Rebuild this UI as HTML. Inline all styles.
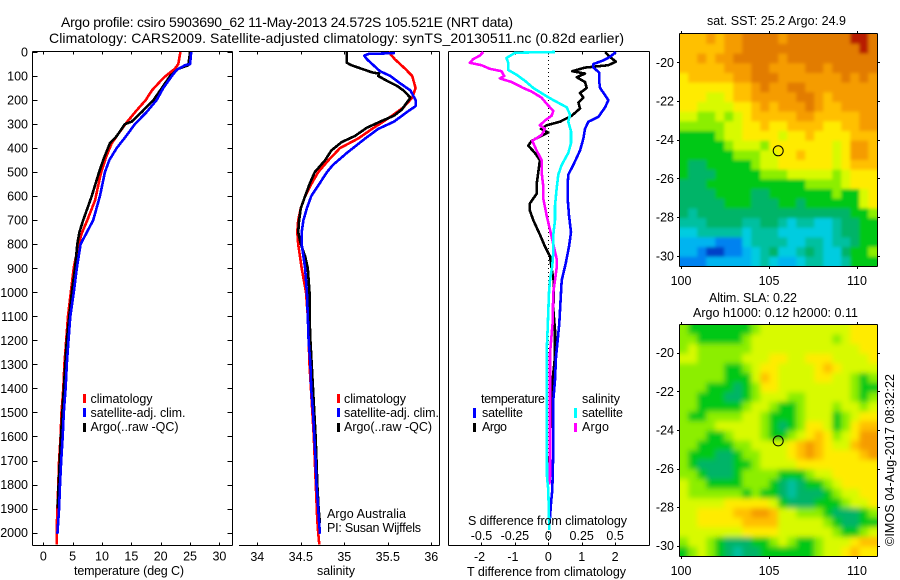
<!DOCTYPE html>
<html lang="en">
<head>
<meta charset="utf-8">
<title>Argo profile chart</title>
<style>
html,body{margin:0;padding:0;background:#fff;width:900px;height:580px;overflow:hidden}
svg{display:block}
text{font-family:"Liberation Sans",sans-serif;font-size:12.5px;fill:#000}
.big{font-size:14px}
</style>
</head>
<body>
<svg id="chart" width="900" height="580" viewBox="0 0 900 580" xmlns="http://www.w3.org/2000/svg">
  <defs>
    <clipPath id="clipSst"><rect x="679.5" y="34" width="198" height="232"/></clipPath>
    <clipPath id="clipSla"><rect x="679.5" y="324.5" width="198" height="232"/></clipPath>
    <filter id="blurSst" x="-5%" y="-5%" width="110%" height="110%"><feGaussianBlur stdDeviation="1.6"/></filter>
    <filter id="blurSla" x="-5%" y="-5%" width="110%" height="110%"><feGaussianBlur stdDeviation="2.6"/></filter>
  </defs>
  <rect width="900" height="580" fill="#fff"/>

  <text class="big" x="61" y="27" textLength="452">Argo profile: csiro 5903690_62 11-May-2013 24.572S 105.521E (NRT data)</text>
  <text class="big" x="49" y="43" textLength="575">Climatology: CARS2009. Satellite-adjusted climatology: synTS_20130511.nc (0.82d earlier)</text>

  <g id="panels"></g>
  <g id="maps"></g>

  <text x="74" y="575" textLength="110">temperature (deg C)</text>
  <text x="317" y="575" textLength="38">salinity</text>
  <text x="467" y="576" textLength="159">T difference from climatology</text>
  <text x="468" y="525" textLength="159">S difference from climatology</text>

  <g>
    <rect x="83" y="394" width="3" height="9" fill="#f00"/>
    <rect x="83" y="408" width="3" height="9" fill="#00f"/>
    <rect x="83" y="423" width="3" height="9" fill="#000"/>
    <text x="90.5" y="403" textLength="62">climatology</text>
    <text x="90.5" y="417" textLength="95">satellite-adj. clim.</text>
    <text x="90.5" y="431" textLength="88">Argo(..raw -QC)</text>
  </g>
  <g>
    <rect x="337" y="394" width="3" height="9" fill="#f00"/>
    <rect x="337" y="408" width="3" height="9" fill="#00f"/>
    <rect x="337" y="423" width="3" height="9" fill="#000"/>
    <text x="344" y="403" textLength="62">climatology</text>
    <text x="344" y="417" textLength="95">satellite-adj. clim.</text>
    <text x="344" y="431" textLength="88">Argo(..raw -QC)</text>
  </g>
  <text x="327" y="518" textLength="79">Argo Australia</text>
  <text x="327" y="532" textLength="94">PI: Susan Wijffels</text>

  <g>
    <text x="481" y="403" textLength="64">temperature</text>
    <text x="582" y="403" textLength="38">salinity</text>
    <rect x="473" y="408" width="3" height="10" fill="#00f"/>
    <rect x="473" y="423" width="3" height="9" fill="#000"/>
    <rect x="574" y="408" width="3" height="10" fill="#0ff"/>
    <rect x="574" y="423" width="3" height="9" fill="#f0f"/>
    <text x="482" y="417" textLength="41">satellite</text>
    <text x="482" y="431" textLength="25">Argo</text>
    <text x="582" y="417" textLength="41">satellite</text>
    <text x="582" y="431" textLength="27">Argo</text>
  </g>

  <text x="707" y="25" textLength="139">sat. SST: 25.2 Argo: 24.9</text>
  <text x="709" y="302" textLength="88">Altim. SLA: 0.22</text>
  <text x="693" y="317" textLength="165">Argo h1000: 0.12 h2000: 0.11</text>
  <text transform="translate(894 546) rotate(-90)" textLength="172">©IMOS 04-Aug-2017 08:32:22</text>
</svg>
<script>
// ---------- Profile data ----------
const tempClimDepth=[0,50,70,100,115,160,200,243,290,340,380,437,506,618,700,757,826,896,1007,1100,1200,1300,1400,1500,1600,1700,1800,1900,2000,2050];
const tempClim=[23.35,23,22.4,20.85,20.2,18.5,17.45,15.9,14.3,12.8,11.65,10.7,9.8,8.8,7.5,6.5,5.8,5.2,4.65,4.2,3.9,3.6,3.4,3.1,2.95,2.7,2.55,2.4,2.27,2.27];
const tempSatDepth=[0,50,55,75,100,150,200,250,300,350,400,450,500,600,700,800,900,1000,1100,1200,1300,1400,1500,1600,1700,1800,1900,2005];
const tempSat=[25.2,25,24.15,22.7,21.9,20.45,19.3,17.6,15.6,14.1,12.5,11.25,10.5,9.65,8.5,6.35,5.7,5.2,4.6,4.3,4.0,3.8,3.5,3.3,3.05,2.85,2.7,2.4];
const tempArgoDepth=[0,55,70,100,150,200,250,290,300,350,380,450,500,600,700,750,800,900,1000,1200,1400,1600,1800,1900];
const tempArgo=[25,24.7,23,21.6,20.2,18.75,16.75,15.05,13.9,12.5,11.35,10.2,9.5,8.25,6.8,6.15,5.8,5.4,4.85,4.0,3.5,3.0,2.6,2.45];

const salClimDepth=[0,30,50,70,100,150,190,230,270,320,360,400,450,500,550,600,650,700,750,800,900,1000,1100,1300,1600,1950,2000,2050];
const salClim=[35.51,35.58,35.64,35.7,35.78,35.82,35.78,35.68,35.53,35.32,35.16,34.95,34.82,34.7,34.62,34.55,34.5,34.47,34.46,34.47,34.51,34.56,34.58,34.6,34.65,34.69,34.7,34.713];
const salSatDepth=[0,5,8,15,30,50,80,100,130,160,200,225,250,290,320,360,420,470,500,550,600,650,700,750,800,900,1000,1100,1200,1300,1400,1500,1600,1700,1800,1900,2005];
const salSat=[35.57,35.57,35.28,35.23,35.26,35.32,35.41,35.53,35.64,35.76,35.82,35.82,35.72,35.57,35.39,35.24,35.03,34.87,34.8,34.71,34.62,34.57,34.53,34.51,34.51,34.55,34.57,34.58,34.59,34.61,34.62,34.64,34.655,34.67,34.68,34.7,34.72];
const salArgoDepth=[0,45,55,70,85,90,100,120,140,160,190,210,240,265,290,315,350,375,410,450,500,550,600,650,700,750,800,850,900,1000,1100,1200,1300,1400,1500,1600,1700,1800,1900,1960];
const salArgo=[35.03,35.03,35.08,35.2,35.32,35.4,35.39,35.49,35.6,35.68,35.76,35.72,35.66,35.57,35.41,35.26,35.12,34.97,34.85,34.78,34.66,34.6,34.55,34.5,34.48,34.47,34.5,34.55,34.58,34.6,34.6,34.61,34.625,34.64,34.655,34.67,34.68,34.69,34.705,34.72];

const diffTSatDepth=[0,20,35,50,65,85,120,150,200,230,270,290,320,360,410,440,470,510,550,610,680,750,810,880,950,1129,1198,1268,1365,1448,1656,1823,1878,1961];
const diffTSat=[2.02,1.85,1.65,1.35,1.35,1.52,1.52,1.55,1.8,1.7,1.5,1.2,1.1,1.05,0.95,0.85,0.75,0.6,0.58,0.58,0.62,0.68,0.62,0.52,0.4,0.33,0.28,0.23,0.2,0.15,0.15,0.12,0.08,0.04];
const diffTArgoDepth=[0,15,40,55,65,80,90,105,125,150,170,190,210,235,265,290,305,320,335,355,370,390,420,450,500,550,590,630,660,700,760,810,850,900,960,1073,1156,1268,1406,1545,1628,1750];
const diffTArgo=[1.7,1.8,2.02,1.8,1.1,0.72,1.1,0.85,1.1,1.15,0.95,1.05,0.9,0.95,0.7,0.35,-0.05,-0.22,0,-0.3,-0.5,-0.6,-0.4,-0.25,-0.3,-0.35,-0.35,-0.55,-0.55,-0.45,-0.25,-0.1,0.05,0.1,0.17,0.15,0.2,0.2,0.1,0.07,0.05,0.02];
const diffSSatDepth=[0,3,8,25,45,75,95,120,150,180,200,230,260,290,330,380,420,470,510,570,640,700,760,830,890,950,1000,1156,1254,1767,1823,1989];
const diffSSat=[0.05,-0.25,-0.2625,-0.3125,-0.3,-0.3,-0.2375,-0.175,-0.1125,-0.025,0.0375,0.1375,0.1625,0.15,0.17,0.17,0.15,0.1,0.075,0.0625,0.05,0.05,0.0375,0.0375,0.03,0.0125,0.005,-0.005,-0.0125,-0.01,0,0.0075];
const diffSArgoDepth=[0,15,30,45,55,70,80,100,110,125,150,165,190,215,245,265,285,305,320,345,370,410,450,500,560,610,680,740,800,860,900,950,1000,1129,1254,1545,1767,1800];
const diffSArgo=[-0.4875,-0.5125,-0.5625,-0.5875,-0.5,-0.4375,-0.35,-0.33,-0.3625,-0.275,-0.1875,-0.125,-0.05,-0.0125,0.0375,0.025,-0.025,-0.0625,-0.025,-0.05,-0.12,-0.0875,-0.05,-0.05,-0.0375,-0.0375,-0.0125,0.0125,0.0375,0.0625,0.0625,0.05,0.0375,0.0325,0.0125,0.0125,0.0125,0.0075];

// ---------- Tick labels ----------
const depthTicks=[0,100,200,300,400,500,600,700,800,900,1000,1100,1200,1300,1400,1500,1600,1700,1800,1900,2000];
const tempTicks=[0,5,10,15,20,25,30];
const salTicks=[34,34.5,35,35.5,36];
const diffTTicks=[-2,-1,0,1,2];
const diffSTicks=[-0.5,-0.25,0,0.25,0.5];
const lonTicks=[100,105,110];
const latTicks=[-20,-22,-24,-26,-28,-30];

// ---------- Map data (colour-scale level, 0 = coldest/lowest, 13 = warmest/highest) ----------
const sstLevels=[
[10,10,10,11,10,11,11,12,12,12,12,11,12,12,12,12,12,12,12,13,13,12],
[10,10,10,10,10,11,11,12,12,12,12,12,12,12,12,12,12,12,12,12,13,12],
[10,10,11,10,11,11,12,12,12,12,12,11,12,12,12,12,12,12,12,12,12,12],
[10,10,10,10,10,11,11,11,12,12,11,11,11,11,12,12,11,12,12,12,12,12],
[9,10,10,10,10,10,11,11,12,12,12,11,11,11,11,11,11,11,12,11,12,11],
[9,9,9,9,9,9,10,10,11,12,11,11,12,12,11,11,11,11,11,11,11,11],
[9,9,9,8,8,9,10,10,11,11,11,11,11,12,12,11,10,11,11,11,11,11],
[9,9,8,8,8,8,9,9,10,11,10,11,11,11,12,11,10,10,11,11,11,11],
[8,8,7,7,8,7,8,9,10,10,10,10,10,11,11,10,10,10,10,10,11,11],
[7,7,7,7,7,8,8,9,9,10,9,9,10,10,10,10,9,9,10,10,11,11],
[6,6,6,6,7,8,8,9,9,9,9,8,9,9,10,9,9,9,9,10,10,10],
[6,6,6,6,6,7,8,8,8,7,9,9,9,9,9,9,9,8,9,11,11,10],
[6,6,6,6,6,6,7,7,7,8,8,9,9,10,9,9,9,8,9,11,11,10],
[6,5,5,6,6,6,6,6,7,8,8,9,9,9,9,9,9,8,9,10,10,10],
[6,5,5,5,6,6,6,6,6,7,7,7,8,8,8,8,8,7,8,9,9,9],
[5,5,5,6,6,6,6,6,6,6,6,6,6,6,7,7,7,7,8,9,9,9],
[5,5,5,5,6,6,6,6,5,5,6,6,6,6,6,6,6,7,6,6,8,9],
[5,5,5,5,5,6,6,6,5,5,5,6,6,5,6,6,6,6,6,6,8,9],
[5,4,5,5,5,5,5,5,5,5,5,5,5,5,5,5,5,5,5,6,6,7],
[4,4,4,5,5,5,5,4,4,5,5,4,3,4,4,3,3,4,5,5,6,6],
[3,3,4,4,4,4,4,3,4,4,4,3,3,3,3,3,3,4,5,5,6,6],
[2,2,2,2,1,1,1,3,4,4,4,4,3,3,4,4,3,4,4,5,6,6],
[2,2,1,0,0,1,1,2,3,4,5,3,3,4,5,4,3,3,5,6,6,7],
[1,1,1,2,2,2,2,2,3,4,3,2,2,3,4,4,3,3,4,6,6,6]
];
const slaLevels=[
[7,6,6,6,6,6,6,6,7,8,8,8,8,8,8,8,8,8,8,9,9,9],
[7,7,6,6,6,6,6,7,8,8,8,8,8,8,8,8,8,7,8,9,9,9],
[7,8,7,7,7,7,7,7,8,8,8,8,8,8,8,8,8,8,8,8,9,9],
[8,8,7,7,7,7,7,8,8,8,9,9,8,8,9,9,9,8,8,8,8,9],
[7,7,7,7,7,6,6,7,8,9,9,8,8,8,8,9,10,9,8,8,8,8],
[7,7,7,7,7,6,6,6,8,10,9,8,8,8,8,9,9,8,8,7,6,7],
[7,7,7,6,6,6,5,6,7,9,9,8,8,8,8,8,8,8,8,7,6,6],
[7,7,6,6,6,5,5,6,7,8,8,8,7,7,8,8,8,8,8,7,6,7],
[7,7,6,6,6,6,6,7,8,8,7,6,6,7,8,8,8,7,8,8,7,8],
[7,6,6,7,7,7,7,8,8,7,6,6,6,7,8,8,8,6,7,8,9,9],
[7,7,7,7,8,8,8,8,8,7,6,5,6,7,9,9,8,6,7,9,10,10],
[7,7,7,6,6,7,8,8,8,7,6,6,7,8,9,10,9,7,8,9,11,11],
[7,7,6,6,6,6,7,7,8,8,8,8,9,10,11,10,9,8,8,10,11,11],
[7,6,6,6,5,5,6,7,7,8,8,8,9,10,11,10,9,9,9,9,10,11],
[7,6,5,5,5,5,6,6,7,8,8,8,8,9,9,9,9,9,9,9,9,9],
[7,7,6,5,5,5,6,7,7,7,7,6,6,6,7,8,8,9,9,9,9,9],
[8,7,7,6,6,6,6,7,7,7,6,5,4,5,6,6,7,8,9,9,9,9],
[8,7,7,7,7,7,7,6,7,6,6,5,4,5,5,5,6,7,8,8,9,9],
[8,8,8,8,8,9,9,9,9,9,8,6,5,5,5,6,6,6,7,8,8,9],
[8,8,9,9,9,9,10,10,11,11,10,8,8,7,7,7,6,5,5,5,6,7],
[8,8,9,9,9,9,9,10,10,10,10,8,8,8,8,8,7,6,5,5,6,6],
[8,8,8,8,8,8,8,9,9,9,9,8,8,8,8,8,8,7,6,6,7,8],
[7,8,8,7,6,5,5,5,6,6,7,8,7,6,6,7,8,8,8,9,10,10],
[6,7,8,7,6,5,4,5,5,6,6,6,6,6,6,7,8,8,9,10,9,9]
];
const colourScale=['#0040c8','#0082f0','#00b4f0','#00cce0','#00c0a0','#00b468','#00c818','#8cee00','#d8fa00','#ffeb00','#ffc000','#f59c00','#e27c00','#b81e00'];
const profileLat=-24.572;
const profileLon=105.521;

// ---------- Axis functions ----------
const NS='http://www.w3.org/2000/svg';
const yDepth=d=>52+0.2403*d;
const xTemp=t=>43.3+5.87*t;
const xSal=s=>257.3+87*(s-34);
const xDiffT=t=>548.3+33.4*t;
const xDiffS=s=>548.3+133.6*s;
const xLon=l=>681+17.6*(l-100);
const ySst=l=>62.3+19.35*(-20-l);
const ySla=l=>352.7+19.3*(-20-l);

function make(tag,parent,name,attrs){
  const el=document.createElementNS(NS,tag);
  
  
  for(const k in attrs)el.setAttribute(k,attrs[k]);
  parent.appendChild(el);
  return el;
}
function seg(p,name,x1,y1,x2,y2,extra){
  return make('line',p,name,Object.assign({x1,y1,x2,y2,stroke:'#000','stroke-width':1,'shape-rendering':'crispEdges'},extra||{}));
}
function label(p,name,x,y,str,anchor){
  const t=make('text',p,name,{x,y,'text-anchor':anchor||'middle'});
  t.textContent=str;
  return t;
}
function profile(p,name,depths,vals,xf,color){
  const pts=vals.map((v,i)=>xf(v).toFixed(1)+','+yDepth(depths[i]).toFixed(1)).join(' ');
  return make('polyline',p,name,{points:pts,fill:'none',stroke:color,'stroke-width':2.6,'stroke-linejoin':'round','shape-rendering':'crispEdges'});
}

const panels=document.getElementById('panels');
const YT=51.5,YB=545.5;

// Temperature panel
const p1=make('g',panels,'temperature-panel',{});
seg(p1,'temperature-frame-left',32.5,YT,32.5,YB);
seg(p1,'temperature-frame-right',232.5,YT,232.5,YB);
seg(p1,'temperature-frame-top',32.5,YT,232.5,YT);
seg(p1,'temperature-frame-bottom',32.5,YB,232.5,YB);
depthTicks.forEach(d=>{
  const y=Math.round(yDepth(d))+0.5;
  seg(p1,'depth-tick',32.5,y,37.5,y);
  seg(p1,'depth-tick-right',227.5,y,232.5,y);
  label(p1,'depth-tick-label',28,yDepth(d)+4.5,String(d),'end');
});
tempTicks.forEach(v=>{
  const x=Math.round(xTemp(v))+0.5;
  seg(p1,'temperature-tick',x,YT,x,YT+3);
  seg(p1,'temperature-tick-bottom',x,YB-3,x,YB);
  label(p1,'temperature-tick-label',xTemp(v),560.5,String(v));
});
profile(p1,'temperature-climatology-line',tempClimDepth,tempClim,xTemp,'#f00');
profile(p1,'temperature-argo-line',tempArgoDepth,tempArgo,xTemp,'#000');
profile(p1,'temperature-satellite-line',tempSatDepth,tempSat,xTemp,'#00f');

// Salinity panel
const p2=make('g',panels,'salinity-panel',{});
seg(p2,'salinity-frame-top',239,YT,439.5,YT);
seg(p2,'salinity-frame-bottom',239,YB,439.5,YB);
seg(p2,'salinity-frame-right',439.5,YT,439.5,YB);
salTicks.forEach(v=>{
  const x=Math.round(xSal(v))+0.5;
  seg(p2,'salinity-tick',x,YT,x,YT+3);
  seg(p2,'salinity-tick-bottom',x,YB-3,x,YB);
  label(p2,'salinity-tick-label',xSal(v),561,String(v));
});
profile(p2,'salinity-climatology-line',salClimDepth,salClim,xSal,'#f00');
profile(p2,'salinity-argo-line',salArgoDepth,salArgo,xSal,'#000');
profile(p2,'salinity-satellite-line',salSatDepth,salSat,xSal,'#00f');

// Difference panel
const p3=make('g',panels,'difference-panel',{});
seg(p3,'difference-frame-left',448.5,YT,448.5,YB);
seg(p3,'difference-frame-right',649.5,YT,649.5,YB);
seg(p3,'difference-frame-top',448.5,YT,649.5,YT);
seg(p3,'difference-frame-bottom',448.5,YB,649.5,YB);
make('line',p3,'zero-difference-line',{x1:548.5,y1:52,x2:548.5,y2:545,stroke:'#000','stroke-width':1,'stroke-dasharray':'1 3','shape-rendering':'crispEdges'});
diffTTicks.forEach(v=>{
  const x=Math.round(xDiffT(v))+0.5;
  seg(p3,'t-difference-tick',x,YT,x,YT+3);
  seg(p3,'t-difference-tick-bottom',x,YB-3,x,YB);
  label(p3,'t-difference-tick-label',xDiffT(v)-(v<0?2:0),561,String(v));
});
diffSTicks.forEach(v=>{
  label(p3,'s-difference-tick-label',xDiffS(v),540,String(v));
});
profile(p3,'t-difference-argo-line',diffTArgoDepth,diffTArgo,xDiffT,'#000');
profile(p3,'t-difference-satellite-line',diffTSatDepth,diffTSat,xDiffT,'#00f');
profile(p3,'s-difference-argo-line',diffSArgoDepth,diffSArgo,xDiffS,'#f0f');
profile(p3,'s-difference-satellite-line',diffSSatDepth,diffSSat,xDiffS,'#0ff');

// Maps
const maps=document.getElementById('maps');
const lonStart=99.9,lonStep=11.25/22,latStart=-18.55,latStep=0.5;
function drawMap(levels,yf,clipId,blurId,name){
  const g=make('g',maps,name,{'clip-path':'url(#'+clipId+')'});
  const inner=make('g',g,name+'-cells',{filter:'url(#'+blurId+')'});
  const nr=levels.length;
  levels.forEach((row,r)=>{
    const nc=row.length;
    row.forEach((lev,c)=>{
      let x0=xLon(lonStart+c*lonStep),x1=xLon(lonStart+(c+1)*lonStep);
      let y0=yf(latStart-r*latStep),y1=yf(latStart-(r+1)*latStep);
      if(c===0)x0-=10;
      if(c===nc-1)x1+=10;
      if(r===0)y0-=10;
      if(r===nr-1)y1+=10;
      make('rect',inner,name+'-cell',{x:x0.toFixed(2),y:y0.toFixed(2),width:(x1-x0+0.6).toFixed(2),height:(y1-y0+0.6).toFixed(2),fill:colourScale[lev]});
    });
  });
  const yT=Math.round(yf(latStart))-0.5,yB=Math.round(yf(latStart-nr*latStep))+0.5;
  seg(maps,name+'-frame-top',679.5,yT,877.5,yT);
  seg(maps,name+'-frame-left',679.5,yT,679.5,yB);
  seg(maps,name+'-frame-right',877.5,yT,877.5,yB);
  seg(maps,name+'-frame-bottom',679.5,yB,877.5,yB);
  latTicks.forEach(l=>{
    const y=Math.round(yf(l))+0.5;
    seg(maps,name+'-lat-tick',677,y,679.5,y);
    seg(maps,name+'-lat-tick-right',877.5,y,880,y);
    label(maps,name+'-lat-label',674,yf(l)+4.5,String(l),'end');
  });
  lonTicks.forEach(l=>{
    const x=Math.round(xLon(l))+0.5;
    seg(maps,name+'-lon-tick',x,yT-2.5,x,yT);
    seg(maps,name+'-lon-tick-bottom',x,yB,x,yB+2.5);
    label(maps,name+'-lon-label',xLon(l),yB+18.5,String(l));
  });
  make('circle',maps,name+'-argo-position',{cx:xLon(profileLon).toFixed(1),cy:yf(profileLat).toFixed(1),r:5,fill:'none',stroke:'#000','stroke-width':1});
}
drawMap(sstLevels,ySst,'clipSst','blurSst','sst-map');
drawMap(slaLevels,ySla,'clipSla','blurSla','sla-map');
</script>
</body>
</html>
